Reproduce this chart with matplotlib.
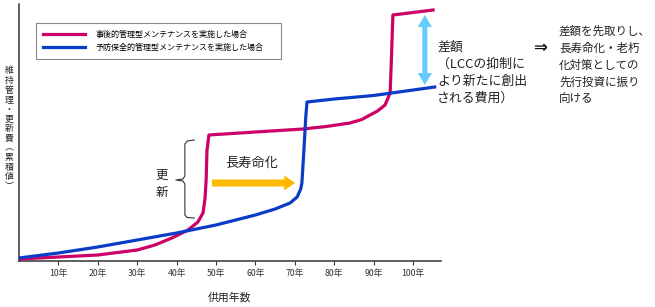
import numpy as np
import matplotlib
matplotlib.use("Agg")
import matplotlib.pyplot as plt
from matplotlib.patches import FancyArrow

plt.rcParams['font.family'] = ['Noto Sans CJK JP', 'DejaVu Sans']

W, H = 655, 307

# data (years vs cumulative cost, arbitrary units)
years_post = [0, 10, 20, 30, 34.5, 38.8, 42.9, 45.4, 46.7, 47.2, 47.5, 47.7, 48.2,
              60, 72.1, 78, 84, 87, 89.1, 91, 92.9, 94.2, 94.5, 94.9, 105.1]
cost_post = [2, 4, 6, 11, 16, 23, 31, 39, 48, 62, 81, 110, 126,
             129, 132, 134.5, 138, 141.5, 146, 150, 156, 168, 200, 246, 251]
years_prev = [0, 10, 20, 30, 40, 50, 60, 65, 68.8, 70.6, 71.5, 71.8, 72.3,
              72.8, 73.1, 80, 90, 105.5]
cost_prev = [3, 8, 14, 21, 28, 36, 46, 52, 58, 64, 72, 78, 110,
             145, 159, 162, 165.5, 174]
tick_years = [10, 20, 30, 40, 50, 60, 70, 80, 90, 100]
tick_labels = [f"{y}年" for y in tick_years]

label_post = "事後的管理型メンテナンスを実施した場合"
label_prev = "予防保全的管理型メンテナンスを実施した場合"

c_post = "#CC0066"
c_prev = "#0A3CC8"

fig = plt.figure(figsize=(W / 100, H / 100), dpi=100)
ax = fig.add_axes([19 / W, 1 - 261 / H, (441 - 19) / W, (261 - 4) / H])

ax.plot(years_post, cost_post, color=c_post, lw=2.3, label=label_post,
        solid_joinstyle='round', zorder=3)
ax.plot(years_prev, cost_prev, color=c_prev, lw=2.3, label=label_prev,
        solid_joinstyle='round', zorder=3)

ax.set_xlim(0, (441 - 19) / 3.94)
ax.set_ylim(0, 257)
ax.set_xticks(tick_years)
ax.set_xticklabels(tick_labels, fontsize=6.3, color="#333333")
ax.set_yticks([])
ax.tick_params(axis='x', direction='out', length=3, width=0.8, pad=3, color="#333333")
for s in ['top', 'right']:
    ax.spines[s].set_visible(False)
for s in ['left', 'bottom']:
    ax.spines[s].set_linewidth(1.1)
    ax.spines[s].set_color("#333333")

leg = ax.legend(loc='upper left', bbox_to_anchor=(36 / W, 1 - 26 / H, 245 / W, 0.01),
                bbox_transform=fig.transFigure, mode='expand', borderaxespad=0,
                fontsize=5.8, fancybox=False, edgecolor="#888888", framealpha=1,
                handlelength=5.2, handletextpad=1.4, borderpad=0.85, labelspacing=0.5)
leg.get_frame().set_linewidth(0.8)

# brace for 更新
bx = [44.5, 42.7, 42.1, 42.1, 41.6, 39.8, 41.6, 42.1, 42.1, 42.7, 44.5]
by = [121, 120, 117, 85, 82, 81, 80, 77, 46, 43.5, 43]
ax.plot(bx, by, color="#333333", lw=0.8)
ax.text(36.2, 86, "更", fontsize=9, ha='center', va='center', color="#222222")
ax.text(36.2, 69, "新", fontsize=9, ha='center', va='center', color="#222222")

# long-life arrow
ax.add_patch(FancyArrow(49.0, 78, 18.3, 0, width=7, head_width=15, head_length=2.8,
                        length_includes_head=False, color="#FFB900", lw=0, zorder=2))
ax.text(59.2, 98, "長寿命化", fontsize=9.5, ha='center', va='center', color="#222222")

# difference double arrow
xa = 103.0
ax.add_patch(FancyArrow(xa, 211, 0, 35, width=1.3, head_width=3.6, head_length=12,
                        length_includes_head=True, color="#66CCFF", lw=0, zorder=2))
ax.add_patch(FancyArrow(xa, 211, 0, -35, width=1.3, head_width=3.6, head_length=12,
                        length_includes_head=True, color="#66CCFF", lw=0, zorder=2))

# y label (vertical, one character per row)
ylab = "維持管理・更新費︵累積値︶"
for i, ch in enumerate(ylab):
    fig.text(9 / W, 1 - (71 + 9.6 * i) / H, ch, fontsize=6.4, ha='center', va='center',
             color="#222222")
fig.text(230 / W, 1 - 297 / H, "供用年数", fontsize=7.8, ha='center', va='center',
         color="#222222")

# right side texts
left_lines = ["差額", "（LCCの抑制に", "より新たに創出", "される費用）"]
for i, t in enumerate(left_lines):
    fig.text(437 / W, 1 - (47 + 17 * i) / H, t, fontsize=9.3, ha='left', va='center',
             color="#222222")
fig.text(540 / W, 1 - 48 / H, "⇒", fontsize=12, fontweight='bold', ha='center',
         va='center', family='DejaVu Sans', color="#111111")
right_lines = ["差額を先取りし、", "長寿命化・老朽", "化対策としての", "先行投資に振り", "向ける"]
for i, t in enumerate(right_lines):
    fig.text(559 / W, 1 - (31 + 17 * i) / H, t, fontsize=8.3, ha='left', va='center',
             color="#222222")

fig.savefig("out.png", dpi=100)
